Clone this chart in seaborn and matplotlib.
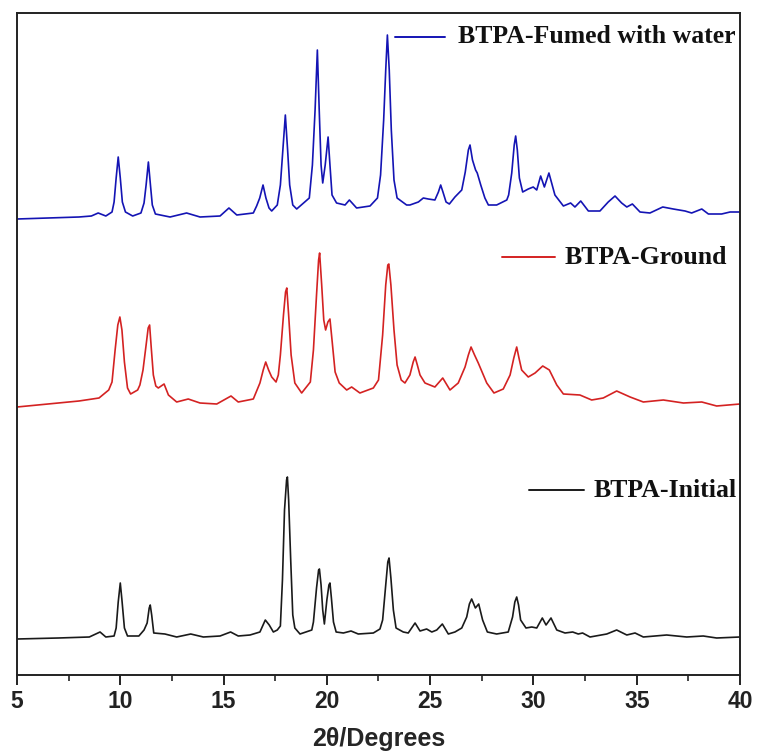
import matplotlib
matplotlib.use("Agg")
import matplotlib.pyplot as plt
import seaborn as sns
import numpy as np
import pandas as pd

# ---- data: (2theta in degrees, intensity in arbitrary units) ----
fumed_points = [
    (5.0, 1), (6.5, 2), (8.0, 3), (8.6, 4), (8.93, 7), (9.3, 4), (9.6, 8), (9.7, 18), (9.8, 42), (9.9, 63),
    (10.0, 42), (10.1, 18), (10.25, 8), (10.6, 4), (11.0, 7), (11.15, 17), (11.25, 35), (11.36, 58), (11.46, 35),
    (11.55, 15), (11.7, 6), (12.41, 3), (13.21, 7), (13.86, 3), (14.83, 4), (15.26, 12), (15.64, 5), (16.44, 7),
    (16.6, 14), (16.75, 22), (16.91, 35), (17.05, 22), (17.2, 12), (17.33, 9), (17.6, 15), (17.75, 35), (17.87, 70),
    (17.99, 105), (18.1, 70), (18.2, 35), (18.35, 15), (18.54, 11), (19.15, 22), (19.3, 55), (19.43, 110),
    (19.54, 170), (19.63, 110), (19.72, 55), (19.80, 37), (19.92, 55), (20.06, 83), (20.15, 55), (20.25, 25),
    (20.47, 17), (20.88, 15), (21.09, 20), (21.44, 12), (22.09, 14), (22.45, 22), (22.6, 45), (22.75, 100),
    (22.85, 150), (22.93, 185), (23.02, 150), (23.12, 90), (23.25, 40), (23.4, 22), (23.86, 15), (24.02, 15),
    (24.43, 18), (24.67, 22), (24.91, 21), (25.23, 20), (25.4, 28), (25.51, 35), (25.62, 28), (25.77, 18),
    (25.93, 16), (26.20, 23), (26.53, 30), (26.7, 48), (26.85, 70), (26.93, 75), (27.05, 60), (27.2, 50),
    (27.28, 47), (27.45, 35), (27.65, 22), (27.82, 15), (28.22, 15), (28.71, 20), (28.8, 25), (28.95, 47),
    (29.07, 75), (29.14, 84), (29.22, 70), (29.32, 42), (29.48, 28), (29.75, 31), (29.99, 33), (30.16, 30),
    (30.35, 44), (30.53, 33), (30.75, 47), (31.04, 25), (31.45, 14), (31.80, 17), (32.01, 13), (32.29, 19),
    (32.66, 9), (33.22, 9), (33.62, 18), (33.95, 24), (34.27, 17), (34.52, 13), (34.79, 16), (35.16, 8),
    (35.64, 7), (36.26, 13), (36.77, 11), (37.34, 9), (37.66, 7), (38.15, 11), (38.47, 6), (39.11, 6),
    (39.52, 8), (40.0, 8)]

ground_points = [
    (5.0, 3), (6.0, 5), (7.0, 7), (8.0, 9), (8.97, 12), (9.44, 20), (9.6, 28), (9.75, 60), (9.88, 85), (9.98, 93),
    (10.08, 80), (10.2, 48), (10.35, 22), (10.5, 16), (10.84, 20), (10.95, 25), (11.1, 40), (11.25, 65),
    (11.35, 82), (11.42, 85), (11.5, 62), (11.6, 35), (11.72, 24), (11.84, 22), (12.12, 26), (12.33, 15),
    (12.73, 8), (13.29, 11), (13.86, 7), (14.67, 6), (15.36, 14), (15.71, 8), (16.44, 11), (16.76, 27),
    (16.92, 40), (17.04, 48), (17.18, 40), (17.33, 33), (17.54, 28), (17.65, 35), (17.75, 55), (17.9, 95),
    (18.0, 118), (18.06, 122), (18.15, 95), (18.27, 55), (18.45, 27), (18.78, 17), (19.2, 28), (19.35, 60),
    (19.5, 115), (19.6, 150), (19.65, 157), (19.75, 125), (19.85, 90), (19.94, 80), (20.05, 88), (20.15, 91),
    (20.25, 70), (20.4, 38), (20.6, 27), (20.96, 20), (21.20, 23), (21.60, 17), (22.25, 22), (22.5, 30),
    (22.7, 75), (22.85, 125), (22.95, 145), (23.0, 146), (23.1, 125), (23.25, 80), (23.4, 45), (23.6, 30),
    (23.78, 27), (24.02, 35), (24.18, 48), (24.27, 53), (24.38, 45), (24.51, 35), (24.75, 27), (25.23, 23),
    (25.61, 32), (25.96, 20), (26.36, 27), (26.69, 43), (26.85, 55), (26.98, 63), (27.15, 55), (27.33, 47),
    (27.74, 27), (28.09, 17), (28.54, 21), (28.87, 35), (29.05, 52), (29.19, 63), (29.3, 52), (29.43, 40),
    (29.75, 33), (30.08, 37), (30.45, 44), (30.77, 40), (31.13, 25), (31.45, 16), (32.25, 15), (32.82, 10),
    (33.38, 12), (34.03, 19), (34.68, 13), (35.32, 8), (36.29, 10), (37.26, 7), (38.15, 8), (38.87, 4),
    (40.0, 6)]

initial_points = [
    (5.0, 1), (7.0, 2), (8.5, 3), (9.02, 8), (9.3, 3), (9.7, 4), (9.8, 12), (9.9, 38), (10.0, 57), (10.08, 40),
    (10.2, 12), (10.35, 4), (10.9, 4), (11.15, 10), (11.3, 17), (11.4, 32), (11.45, 35), (11.52, 25), (11.62, 7),
    (12.16, 6), (12.73, 3), (13.41, 6), (14.02, 3), (14.83, 4), (15.34, 8), (15.71, 4), (16.28, 5), (16.76, 8),
    (17.02, 20), (17.21, 15), (17.41, 8), (17.6, 10), (17.75, 14), (17.85, 60), (17.95, 130), (18.05, 160),
    (18.09, 163), (18.15, 140), (18.25, 80), (18.35, 25), (18.45, 12), (18.70, 6), (19.27, 10), (19.35, 18),
    (19.5, 52), (19.6, 70), (19.64, 71), (19.72, 55), (19.80, 30), (19.88, 16), (20.0, 40), (20.1, 55),
    (20.15, 57), (20.22, 42), (20.32, 18), (20.45, 8), (20.80, 7), (21.17, 9), (21.52, 6), (22.25, 7),
    (22.57, 11), (22.7, 20), (22.85, 55), (22.95, 78), (23.01, 82), (23.1, 62), (23.22, 30), (23.35, 12),
    (23.70, 8), (23.94, 7), (24.27, 17), (24.51, 9), (24.83, 11), (25.08, 8), (25.32, 10), (25.59, 16),
    (25.88, 6), (26.20, 8), (26.53, 12), (26.77, 23), (26.9, 36), (27.01, 41), (27.19, 32), (27.35, 36),
    (27.54, 20), (27.77, 8), (28.22, 6), (28.78, 8), (28.99, 23), (29.1, 38), (29.19, 43), (29.28, 35),
    (29.38, 20), (29.64, 12), (29.92, 13), (30.16, 12), (30.43, 22), (30.61, 15), (30.85, 22), (31.13, 10),
    (31.53, 7), (31.90, 8), (32.17, 6), (32.38, 7), (32.74, 3), (33.55, 6), (34.03, 10), (34.52, 5), (34.92, 7),
    (35.32, 3), (36.45, 5), (37.42, 3), (38.22, 4), (38.87, 2), (40.0, 3)]

labels = ["BTPA-Fumed with water", "BTPA-Ground", "BTPA-Initial"]
offsets = [455, 265, 35]
colors = ["#1414b4", "#d42222", "#1a1a1a"]
x_ticks = [5, 10, 15, 20, 25, 30, 35, 40]
x_label = "2\u03b8/Degrees"

sns.set_style("white")
plt.rcParams["font.family"] = ["Liberation Sans Narrow", "Liberation Sans", "DejaVu Sans"]

fig = plt.figure(figsize=(7.58, 7.54), dpi=100)
ax = fig.add_axes([17 / 758, 1 - 675 / 754, 723 / 758, 662 / 754])

series = [fumed_points, ground_points, initial_points]
for pts, off, col in zip(series, offsets, colors):
    tt, it = zip(*pts)
    df = pd.DataFrame({"tt": tt, "I": np.array(it, dtype=float) + off})
    sns.lineplot(data=df, x="tt", y="I", ax=ax, color=col, linewidth=1.2,
                 estimator=None, sort=False)

ax.set_xlim(5, 40)
ax.set_ylim(0, 662)
ax.set_yticks([])
ax.set_ylabel("")
ax.set_xticks(x_ticks)
ax.set_xticks(np.arange(7.5, 40, 5), minor=True)
ax.set_xticklabels([str(t) for t in x_ticks], fontsize=16.5, fontweight="bold")
ax.tick_params(axis="x", which="major", direction="out", length=7, width=1.4, pad=4, bottom=True, colors="#222222")
ax.tick_params(axis="x", which="minor", direction="out", length=4, width=1.2, bottom=True, colors="#222222")
ax.set_xlabel(x_label, fontsize=18, fontweight="bold", labelpad=10)
for s in ax.spines.values():
    s.set_linewidth(1.4)
    s.set_color("#222222")

# in-plot legend entries
leg = [((0.523, 0.592), 0.964, 0.610), ((0.671, 0.744), 0.631, 0.758), ((0.708, 0.784), 0.279, 0.797)]
for (xs, yy, xt), lab, col in zip(leg, labels, colors):
    ax.plot(list(xs), [yy, yy], color=col, linewidth=1.4, transform=ax.transAxes)
    ax.text(xt, yy, lab, transform=ax.transAxes, fontsize=18.5, fontweight="bold",
            family=["Liberation Serif", "DejaVu Serif"], va="center", ha="left", color="#111111")

fig.savefig("out.png", dpi=100)
